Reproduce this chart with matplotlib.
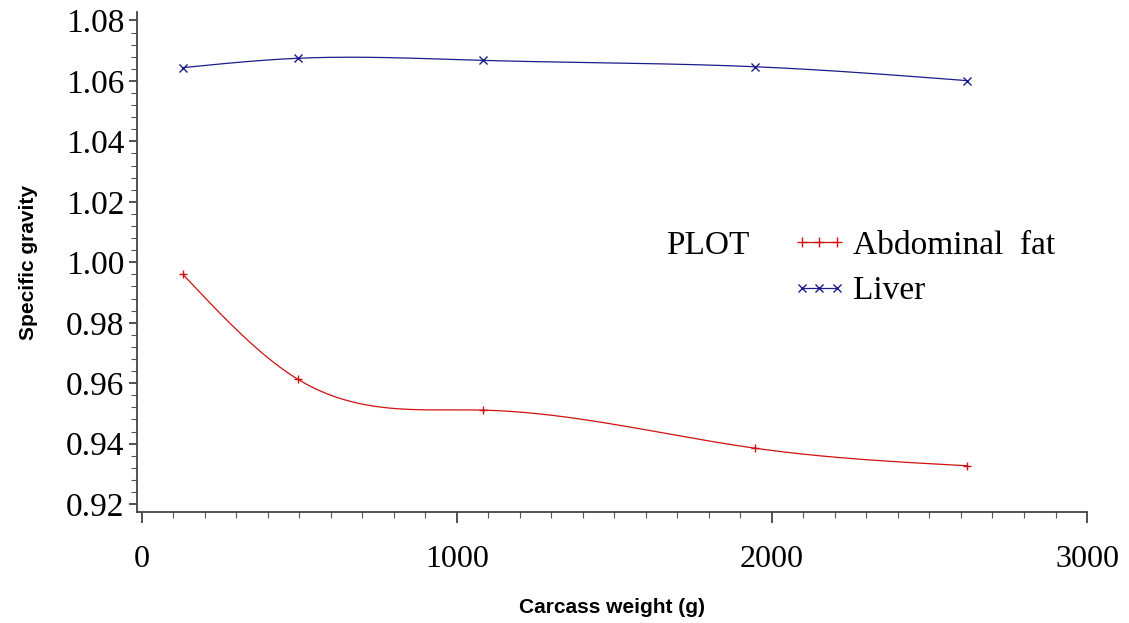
import matplotlib.pyplot as plt
import numpy as np

# carcass weight (g) and specific gravity
weight = [130, 495, 1083, 1946, 2619]
abdominal_fat = [0.9960, 0.9613, 0.9511, 0.9385, 0.9327]
liver = [1.0644, 1.0675, 1.0668, 1.0647, 1.0601]

x_ticks = [0, 1000, 2000, 3000]
y_ticks = [0.92, 0.94, 0.96, 0.98, 1.00, 1.02, 1.04, 1.06, 1.08]

RED = '#d01010'
BLUE = '#1c1c8a'


def natural_spline(x, y, n=300):
    # plain natural cubic spline, like SAS i=spline
    x = np.asarray(x, float)
    y = np.asarray(y, float)
    k = len(x)
    h = np.diff(x)
    A = np.zeros((k, k))
    r = np.zeros(k)
    A[0, 0] = A[-1, -1] = 1
    for i in range(1, k - 1):
        A[i, i - 1] = h[i - 1]
        A[i, i] = 2 * (h[i - 1] + h[i])
        A[i, i + 1] = h[i]
        r[i] = 6 * ((y[i + 1] - y[i]) / h[i] - (y[i] - y[i - 1]) / h[i - 1])
    m = np.linalg.solve(A, r)
    xs = np.linspace(x[0], x[-1], n)
    idx = np.clip(np.searchsorted(x, xs) - 1, 0, k - 2)
    x0, x1 = x[idx], x[idx + 1]
    hh = x1 - x0
    t1 = x1 - xs
    t0 = xs - x0
    ys = (m[idx] * t1 ** 3 + m[idx + 1] * t0 ** 3) / (6 * hh) \
        + (y[idx] / hh - m[idx] * hh / 6) * t1 \
        + (y[idx + 1] / hh - m[idx + 1] * hh / 6) * t0
    return xs, ys


fig = plt.figure(figsize=(11.29, 6.23), dpi=100)
ax = fig.add_axes([0.1213, 0.1782, 0.8415, 0.8025])

serif = 'Liberation Serif'
sans = 'Liberation Sans'

for vals, col, mk in [(abdominal_fat, RED, '+'), (liver, BLUE, 'x')]:
    xs, ys = natural_spline(weight, vals)
    ax.plot(xs, ys, color=col, lw=0.9)
    ax.plot(weight, vals, ls='none', marker=mk, color=col, ms=6, mew=1)

ax.set_xlim(-16, 3000)
ax.set_ylim(0.9174, 1.0828)

ax.set_xticks(x_ticks)
ax.set_xticklabels([str(t) for t in x_ticks], fontfamily=serif, fontsize=23)
ax.set_xticks(np.arange(0, 3001, 100), minor=True)
ax.set_yticks(y_ticks)
ax.set_yticklabels([f'{t:.2f}' for t in y_ticks], fontfamily=serif, fontsize=24)
ax.set_yticks(np.arange(0.92, 1.0801, 0.004), minor=True)

ax.tick_params(axis='x', which='major', length=8, width=1.2, pad=16, color='#333333')
ax.tick_params(axis='x', which='minor', length=4, width=0.8, color='#555555')
ax.tick_params(axis='y', which='major', length=6, width=1.2, pad=3, color='#333333')
ax.tick_params(axis='y', which='minor', length=4, width=0.8, color='#555555')

for s in ['top', 'right']:
    ax.spines[s].set_visible(False)
for s in ['left', 'bottom']:
    ax.spines[s].set_color('#444444')
    ax.spines[s].set_linewidth(1.3)

ax.set_xlabel('Carcass weight (g)', fontfamily=sans, fontweight='bold', fontsize=15, labelpad=17)
ax.set_ylabel('Specific gravity', fontfamily=sans, fontweight='bold', fontsize=15, labelpad=20)

# legend in the SAS style: "PLOT" then the entries
h1, = ax.plot([], [], color=RED, marker='+', lw=0.9, ms=7, mew=1)
h2, = ax.plot([], [], color=BLUE, marker='x', lw=0.9, ms=6, mew=1)
leg = ax.legend([h1, h2], ['Abdominal  fat', 'Liver'], loc='upper left',
                bbox_to_anchor=(0.689, 0.564), frameon=False, numpoints=3,
                handlelength=1.65, handletextpad=0.2, labelspacing=0.46,
                borderpad=0, borderaxespad=0,
                prop={'family': serif, 'size': 24})
fig.text(0.590, 0.606, 'PLOT', fontfamily=serif, fontsize=24, va='center', ha='left')

fig.savefig('out.png', dpi=100, facecolor='white')
